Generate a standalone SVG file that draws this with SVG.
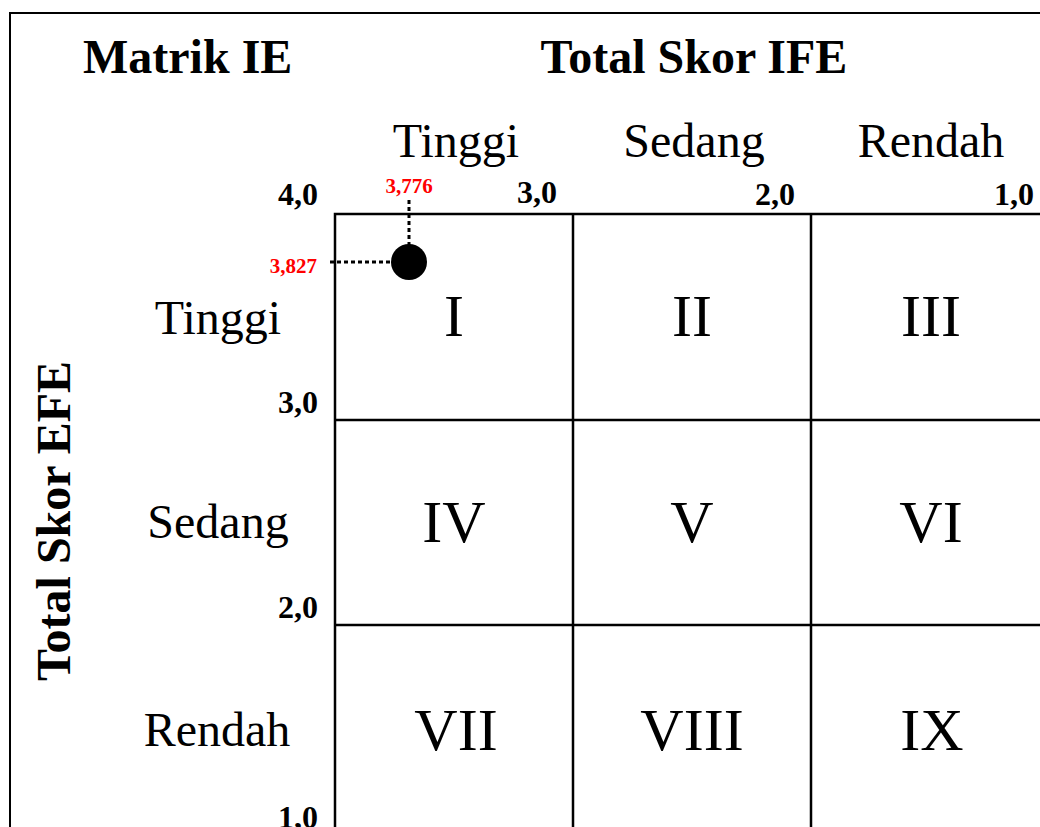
<svg xmlns="http://www.w3.org/2000/svg" width="1040" height="827" viewBox="0 0 1040 827">
<style>
text{font-family:"Liberation Serif","Times New Roman",serif;fill:#000}
.title{font-size:48px;font-weight:bold}
.lab{font-size:48px;text-anchor:middle}
.num{font-size:60px;text-anchor:middle}
.sc{font-size:32px;font-weight:bold;text-anchor:end}
.red{font-size:21px;font-weight:bold;fill:#ff0000}
.grid{fill:none;stroke:#000;stroke-width:2.5}
.dot{fill:none;stroke:#000;stroke-width:3;stroke-dasharray:4 3}
</style>
<rect width="1040" height="827" fill="#fff"/>
<rect x="10" y="13" width="1060" height="840" fill="none" stroke="#000" stroke-width="2"/>
<g id="titles">
<text class="title" x="83" y="73">Matrik IE</text>
<text class="title" x="694" y="73" text-anchor="middle">Total Skor IFE</text>
<text class="title" x="0" y="0" text-anchor="middle" transform="translate(70,521) rotate(-90)">Total Skor EFE</text>
</g>
<g id="col-labels">
<text class="lab" x="456" y="157">Tinggi</text>
<text class="lab" x="694" y="157">Sedang</text>
<text class="lab" x="931" y="157">Rendah</text>
</g>
<g id="row-labels">
<text class="lab" x="218" y="334">Tinggi</text>
<text class="lab" x="218" y="538">Sedang</text>
<text class="lab" x="217" y="746">Rendah</text>
</g>
<g id="scale">
<text class="sc" x="318" y="205">4,0</text>
<text class="sc" x="557" y="203">3,0</text>
<text class="sc" x="795" y="205">2,0</text>
<text class="sc" x="1034" y="205">1,0</text>
<text class="sc" x="318" y="413">3,0</text>
<text class="sc" x="318" y="618">2,0</text>
<text class="sc" x="318" y="828">1,0</text>
</g>
<g id="grid">
<rect class="grid" x="335" y="214" width="714" height="618"/>
<line class="grid" x1="573" y1="214" x2="573" y2="832"/>
<line class="grid" x1="811" y1="214" x2="811" y2="832"/>
<line class="grid" x1="335" y1="420" x2="1049" y2="420"/>
<line class="grid" x1="335" y1="625" x2="1049" y2="625"/>
</g>
<g id="cells">
<text class="num" x="454" y="336">I</text>
<text class="num" x="692" y="336">II</text>
<text class="num" x="931" y="336">III</text>
<text class="num" x="454" y="542">IV</text>
<text class="num" x="692" y="542">V</text>
<text class="num" x="931" y="542">VI</text>
<text class="num" x="456" y="750">VII</text>
<text class="num" x="692" y="750">VIII</text>
<text class="num" x="932" y="750">IX</text>
</g>
<g id="connectors">
<line class="dot" x1="409" y1="200" x2="409" y2="246"/>
<line class="dot" x1="330" y1="262" x2="393" y2="262"/>
</g>
<g id="point">
<circle cx="409" cy="262" r="18" fill="#000"/>
<text class="red" x="409" y="193" text-anchor="middle">3,776</text>
<text class="red" x="317" y="273" text-anchor="end">3,827</text>
</g>
</svg>
